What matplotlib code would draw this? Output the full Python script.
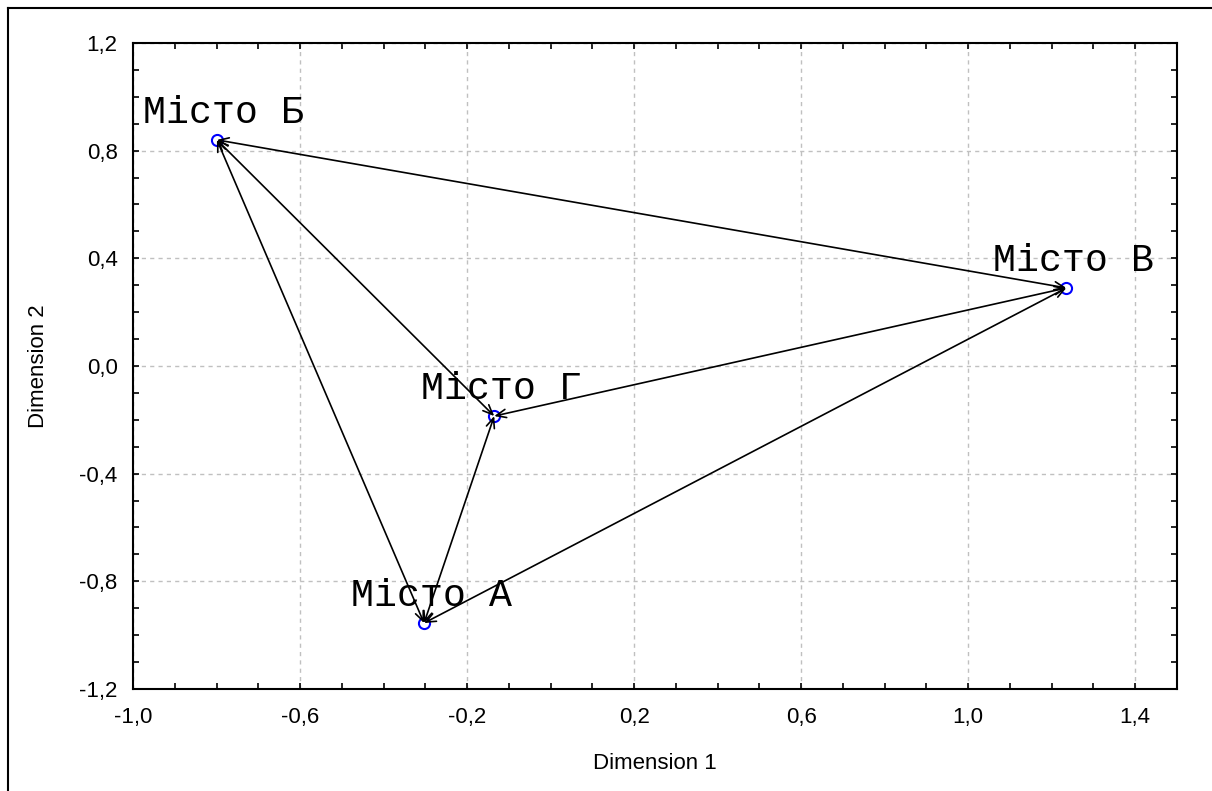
import itertools
import numpy as np
import matplotlib
matplotlib.use("Agg")
import matplotlib.pyplot as plt
from matplotlib.ticker import FixedLocator, FuncFormatter
from matplotlib.lines import Line2D

cities = ["Місто А", "Місто Б", "Місто В", "Місто Г"]
dim1 = np.array([-0.303, -0.799, 1.235, -0.135])
dim2 = np.array([-0.955, 0.840, 0.290, -0.186])

fig = plt.figure(figsize=(12.12, 7.91), dpi=100)
ax = fig.add_axes([133 / 1212, 1 - 689 / 791, 1044 / 1212, 646 / 791])

# connect every pair of cities, arrow tips at both ends
for i, j in itertools.combinations(range(len(cities)), 2):
    ax.annotate("", xy=(dim1[j], dim2[j]), xytext=(dim1[i], dim2[i]),
                arrowprops=dict(arrowstyle="<->,head_length=0.7,head_width=0.3",
                                color="black", lw=1.2, shrinkA=0, shrinkB=0))

ax.plot(dim1, dim2, linestyle="none", marker="o", markersize=8,
        markerfacecolor="none", markeredgecolor="blue", markeredgewidth=1.5)

for name, x, y in zip(cities, dim1, dim2):
    ax.annotate(name, (x, y), xytext=(5, 12), textcoords="offset points",
                ha="center", va="baseline", fontsize=27.5,
                family="Liberation Mono")

ax.set_xlim(-1.0, 1.5)
ax.set_ylim(-1.2, 1.2)
ax.xaxis.set_major_locator(FixedLocator(np.arange(-1.0, 1.41, 0.4)))
ax.yaxis.set_major_locator(FixedLocator(np.arange(-1.2, 1.21, 0.4)))
ax.xaxis.set_minor_locator(FixedLocator(np.arange(-1.0, 1.51, 0.1)))
ax.yaxis.set_minor_locator(FixedLocator(np.arange(-1.2, 1.21, 0.1)))
fmt = FuncFormatter(lambda v, p: f"{v:.1f}".replace(".", ",").replace("-0,0", "0,0"))
ax.xaxis.set_major_formatter(fmt)
ax.yaxis.set_major_formatter(fmt)

ax.tick_params(which="both", direction="in", length=4, width=1.2,
               top=True, right=True, labelsize=16)
ax.tick_params(axis="x", pad=13)
ax.tick_params(axis="y", pad=11)
for lab in ax.get_xticklabels() + ax.get_yticklabels():
    lab.set_family("Liberation Sans")

ax.grid(True, which="major", color="#c0c0c0", linestyle=(0, (3, 3)), linewidth=1)
for s in ax.spines.values():
    s.set_linewidth(1.5)

ax.set_xlabel("Dimension 1", fontsize=16, family="Liberation Sans", labelpad=18)
ax.set_ylabel("Dimension 2", fontsize=16, family="Liberation Sans", labelpad=22)

# outer frame (left and top edges)
fig.add_artist(Line2D([8 / 1212, 8 / 1212], [0, 1 - 8 / 791],
                      transform=fig.transFigure, color="black", lw=1.5))
fig.add_artist(Line2D([8 / 1212, 1], [1 - 8 / 791, 1 - 8 / 791],
                      transform=fig.transFigure, color="black", lw=1.5))

fig.savefig("out.png", dpi=100)
